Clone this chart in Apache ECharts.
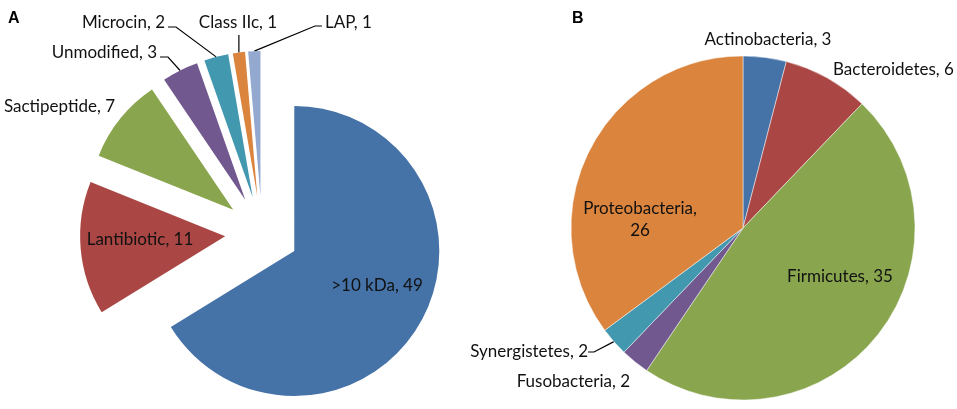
<!DOCTYPE html>
<html>
<head>
<meta charset="utf-8">
<script src="https://cdn.jsdelivr.net/npm/echarts@6/dist/echarts.min.js"></script>
<style>
  html, body { margin: 0; padding: 0; background: #fff; }
  #chart { width: 957px; height: 409px; }
</style>
</head>
<body>
<div id="chart"></div>
<script>
// ---- Data ----
const categoriesA = ['>10 kDa', 'Lantibiotic', 'Sactipeptide', 'Unmodified', 'Microcin', 'Class IIc', 'LAP'];
const valuesA = [49, 11, 7, 3, 2, 1, 1];
const categoriesB = ['Actinobacteria', 'Bacteroidetes', 'Firmicutes', 'Fusobacteria', 'Synergistetes', 'Proteobacteria'];
const valuesB = [3, 6, 35, 2, 2, 26];

// ---- Styles / layout (not data) ----
const colorsA = ['#4572A7', '#AA4643', '#89A54E', '#71588F', '#4198AF', '#DB843D', '#93A9CF'];
const colorsB = ['#4572A7', '#AA4643', '#89A54E', '#71588F', '#4198AF', '#DB843D'];
const insideA = [true, true, false, false, false, false, false];
const lineA = [false, false, false, true, true, true, true];
const labelPosA = [
  [377, 286, 'center'], [140, 240, 'center'], [115, 107, 'right'], [157, 53, 'right'],
  [165, 23, 'right'], [238, 23, 'center'], [325, 23, 'left']
];
const insideB = [false, false, true, false, false, true];
const lineB = [false, false, false, false, true, false];
const labelPosB = [
  [768, 40, 'center'], [833, 70, 'left'], [840, 277, 'center'], [630, 382, 'right'],
  [588, 352, 'right'], [640, 220, 'center']
];

const CENTER_A = [262, 233];
const RADIUS_A = 145;
const EXPLODE_A = 37;
const CENTER_B = [743, 228];
const RADIUS_B = 172;

const FONT = 'Lato';
const FS = 17;
const textColor = '#111';
const lineStyle = { color: '#000', width: 1.2 };

// Leader line from the slice's arc (computed by ECharts) to the label
function leaderPoints(p, q) {
  const start = p.labelLinePoints ? p.labelLinePoints[0] : null;
  if (!start) return undefined;
  const x = q[0], y = q[1], align = q[2];
  if (align === 'right') return [start, [x + 11, y + 4], [x + 3, y + 4]];
  if (align === 'left') return [start, [x - 10, y + 3], [x - 3, y + 3]];
  return [start, [start[0], y + 12]];
}

// Exploded pie A: one series per slice, each drawn by the pie layout from the full
// data; only its own slice is visible, its centre pushed out along the slice's mid angle.
const totalA = valuesA.reduce((a, b) => a + b, 0);
const seriesA = [];
let cum = 0;
valuesA.forEach((v, k) => {
  const mid = (cum + v / 2) / totalA * 2 * Math.PI;
  cum += v;
  const cx = CENTER_A[0] + EXPLODE_A * Math.sin(mid);
  const cy = CENTER_A[1] - EXPLODE_A * Math.cos(mid);
  seriesA.push({
    type: 'pie',
    center: [cx, cy],
    radius: RADIUS_A,
    startAngle: 90,
    clockwise: true,
    avoidLabelOverlap: false,
    emphasis: { disabled: true },
    silent: true,
    label: { show: true, color: textColor, fontFamily: FONT, fontSize: FS },
    labelLine: { length: 10, length2: 6, lineStyle: lineStyle },
    labelLayout: function (p) {
      const q = labelPosA[p.dataIndex];
      const res = { x: q[0], y: q[1], align: q[2], verticalAlign: 'middle' };
      if (lineA[p.dataIndex]) {
        const pts = leaderPoints(p, q);
        if (pts) res.labelLinePoints = pts;
      }
      return res;
    },
    data: categoriesA.map((name, i) => ({
      name: name,
      value: valuesA[i],
      itemStyle: { color: i === k ? colorsA[i] : 'rgba(0,0,0,0)' },
      label: {
        show: i === k,
        position: insideA[i] ? 'inside' : 'outside',
        formatter: '{b}, {c}'
      },
      labelLine: { show: i === k && lineA[i] }
    }))
  });
});

const seriesB = {
  type: 'pie',
  center: CENTER_B,
  radius: RADIUS_B,
  startAngle: 90,
  clockwise: true,
  avoidLabelOverlap: false,
  emphasis: { disabled: true },
  itemStyle: { borderColor: 'rgba(255,255,255,0.6)', borderWidth: 0.8 },
  label: { show: true, color: textColor, fontFamily: FONT, fontSize: FS, lineHeight: 22, align: 'center' },
  labelLine: { length: 10, length2: 6, lineStyle: lineStyle },
  labelLayout: function (p) {
    const q = labelPosB[p.dataIndex];
    return { x: q[0], y: q[1], align: q[2], verticalAlign: 'middle' };
  },
  data: categoriesB.map((name, i) => ({
    name: name,
    value: valuesB[i],
    itemStyle: { color: colorsB[i] },
    label: {
      position: insideB[i] ? 'inside' : 'outside',
      formatter: name === 'Proteobacteria' ? '{b},\n{c}' : '{b}, {c}'
    },
    labelLine: { show: lineB[i] }
  }))
};

const chart = echarts.init(document.getElementById('chart'), null, { renderer: 'canvas' });
chart.setOption({
  animation: false,
  backgroundColor: '#ffffff',
  title: [
    { text: 'A', left: 3, top: 6, textStyle: { fontFamily: 'Liberation Sans', fontWeight: 'bold', fontSize: 16, color: '#000' } },
    { text: 'B', left: 567, top: 6, textStyle: { fontFamily: 'Liberation Sans', fontWeight: 'bold', fontSize: 16, color: '#000' } }
  ],
  series: seriesA.concat([seriesB])
});
</script>
</body>
</html>
